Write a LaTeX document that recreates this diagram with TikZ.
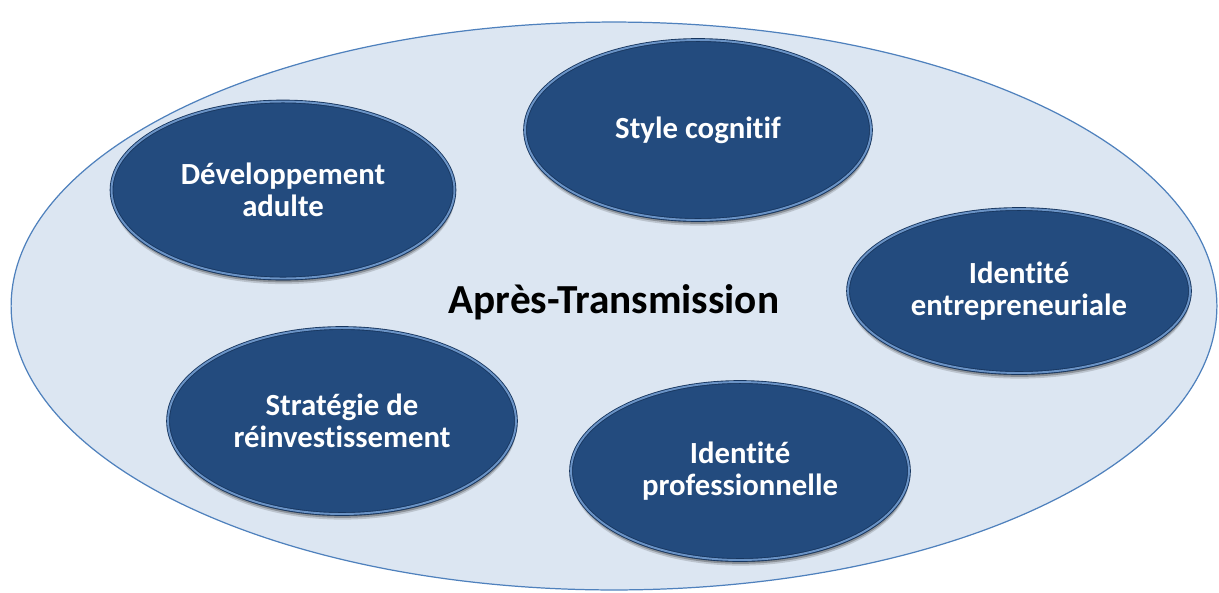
\documentclass[tikz,border=0pt]{standalone}
\usepackage{fontspec}
\setmainfont{Carlito}[Ligatures = NoCommon]
\usetikzlibrary{positioning, shapes, shadows}

\definecolor{fond}{HTML}{DCE6F2}
\definecolor{contour}{HTML}{4F81BD}
\definecolor{bleubulle}{HTML}{234B7E}
\definecolor{bord}{HTML}{17365F}
\definecolor{reflet}{HTML}{6A93C6}

\begin{document}
\begin{tikzpicture}[x = 0.02cm, y = -0.02cm,
    cadre/.style = {ellipse, draw = contour, line width = 0.7pt, fill = fond, inner sep = 0pt},
    bulle/.style = {ellipse, fill = bleubulle, draw = bord, double = reflet, double distance = 1.1pt,
      line width = 0.5pt, inner sep = 0pt, text = white, align = center,
      font = \fontsize{17.5}{18}\selectfont\bfseries,
      drop shadow = {shadow xshift = 0.3pt, shadow yshift = -3.2pt, opacity = 0.15, fill = black},
      drop shadow = {shadow xshift = 0.3pt, shadow yshift = -2.2pt, opacity = 0.25, fill = black},
      drop shadow = {shadow xshift = 0.2pt, shadow yshift = -1.2pt, opacity = 0.3, fill = black}},
    titre/.style = {font = \fontsize{23.5}{26}\selectfont\bfseries, anchor = base}]
    \useasboundingbox (0,0) rectangle (1219,592);

    \node[cadre, minimum width = 24.12cm, minimum height = 11.36cm] (ext) at (614,306) {};

    \node[bulle, minimum width = 6.92cm, minimum height = 3.60cm] (cog) at (698,130) {Style cognitif};
    \node[bulle, minimum width = 6.86cm, minimum height = 3.54cm] (dev) at (283,190) {Développement\\adulte};
    \node[bulle, minimum width = 6.84cm, minimum height = 3.28cm] (ent) at (1019,291) {Identité\\entrepreneuriale};
    \node[bulle, minimum width = 6.96cm, minimum height = 3.72cm] (str) at (342,421) {Stratégie de\\réinvestissement};
    \node[bulle, minimum width = 6.76cm, minimum height = 3.56cm] (pro) at (740,471) {Identité\\professionnelle};

    \node[titre] (apres) at (614,313) {Après-Transmission};
  \end{tikzpicture}
\end{document}
